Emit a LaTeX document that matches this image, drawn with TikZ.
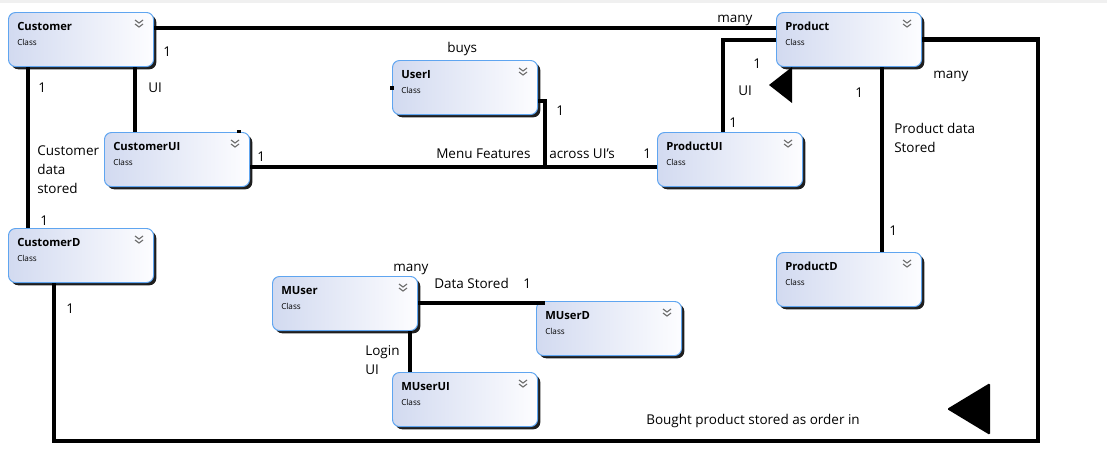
\documentclass[tikz,border=0pt]{standalone}
\usepackage{fontspec}
\setmainfont{Open Sans}
\usepackage{tikz}
\usetikzlibrary{calc, shadows, positioning}
\definecolor{boxleft}{RGB}{210, 218, 240}
\definecolor{boxright}{RGB}{253, 253, 255}
\definecolor{boxborder}{RGB}{95, 165, 240}
\definecolor{boxshadow}{RGB}{30, 30, 30}
\definecolor{chevgray}{RGB}{110, 110, 110}
\definecolor{framegray}{RGB}{240, 240, 240}
\tikzset{
    classbox/.style={draw=boxborder, line width=0.7pt, rounded corners=5pt, left color=boxleft, right color=boxright, minimum width=3.625cm, minimum height=1.35cm, anchor=north west, inner sep=0pt, general shadow={fill=boxshadow, shadow xshift=0.07cm, shadow yshift=-0.07cm}},
    classname/.style={font=\fontsize{8}{10}\selectfont\bfseries, anchor=base west, inner sep=0pt},
    classkind/.style={font=\fontsize{5.8}{7}\selectfont, anchor=base west, inner sep=0pt},
    rolelabel/.style={font=\fontsize{9.6}{13.5}\selectfont, anchor=base west, inner sep=0pt},
    assoc/.style={line width=3.5pt},
    chev/.pic={
        \draw[chevgray, line width=0.8pt] (-4,0) -- (0,3) -- (4,0);
        \draw[chevgray, line width=0.8pt] (-4,4) -- (0,7) -- (4,4);
    },
}

\begin{document}
\begin{tikzpicture}[x=0.025cm, y=-0.025cm]
\useasboundingbox (0,0) rectangle (1107,455);
\fill[framegray] (0,0) rectangle (1107,3);

% === Classes ===
\node[classbox] (customer) at (8,12) {};
\node[classname] (customername) at ($(customer.north west)+(9,18)$) {Customer};
\node[classkind] (customerkind) at ($(customer.north west)+(9,33)$) {Class};
\pic at ($(customer.north east)+(-15,8)$) {chev};

\node[classbox] (product) at (776,12) {};
\node[classname] (productname) at ($(product.north west)+(9,18)$) {Product};
\node[classkind] (productkind) at ($(product.north west)+(9,33)$) {Class};
\pic at ($(product.north east)+(-15,8)$) {chev};

\node[classbox] (useri) at (392,60) {};
\node[classname] (useriname) at ($(useri.north west)+(9,18)$) {UserI};
\node[classkind] (userikind) at ($(useri.north west)+(9,33)$) {Class};
\pic at ($(useri.north east)+(-15,8)$) {chev};

\node[classbox] (customerui) at (104,132) {};
\node[classname] (customeruiname) at ($(customerui.north west)+(9,18)$) {CustomerUI};
\node[classkind] (customeruikind) at ($(customerui.north west)+(9,33)$) {Class};
\pic at ($(customerui.north east)+(-15,8)$) {chev};

\node[classbox] (productui) at (657,132) {};
\node[classname] (productuiname) at ($(productui.north west)+(9,18)$) {ProductUI};
\node[classkind] (productuikind) at ($(productui.north west)+(9,33)$) {Class};
\pic at ($(productui.north east)+(-15,8)$) {chev};

\node[classbox] (customerd) at (8,228) {};
\node[classname] (customerdname) at ($(customerd.north west)+(9,18)$) {CustomerD};
\node[classkind] (customerdkind) at ($(customerd.north west)+(9,33)$) {Class};
\pic at ($(customerd.north east)+(-15,8)$) {chev};

\node[classbox] (productd) at (776,252) {};
\node[classname] (productdname) at ($(productd.north west)+(9,18)$) {ProductD};
\node[classkind] (productdkind) at ($(productd.north west)+(9,33)$) {Class};
\pic at ($(productd.north east)+(-15,8)$) {chev};

\node[classbox] (muser) at (272,276) {};
\node[classname] (musername) at ($(muser.north west)+(9,18)$) {MUser};
\node[classkind] (muserkind) at ($(muser.north west)+(9,33)$) {Class};
\pic at ($(muser.north east)+(-15,8)$) {chev};

\node[classbox] (muserd) at (536,301) {};
\node[classname] (muserdname) at ($(muserd.north west)+(9,18)$) {MUserD};
\node[classkind] (muserdkind) at ($(muserd.north west)+(9,33)$) {Class};
\pic at ($(muserd.north east)+(-15,8)$) {chev};

\node[classbox] (muserui) at (392,372) {};
\node[classname] (musueruiname) at ($(muserui.north west)+(9,18)$) {MUserUI};
\node[classkind] (museruikind) at ($(muserui.north west)+(9,33)$) {Class};
\pic at ($(muserui.north east)+(-15,8)$) {chev};

% === Associations ===
\draw[assoc] ($(customer.north east)+(0,16)$) -- ($(product.north west)+(0,16)$);
\draw[assoc] ($(customer.south west)+(20,0)$) -- ($(customerd.north west)+(20,0)$);
\draw[assoc] ($(customer.south west)+(127,0)$) -- ($(customerui.north west)+(31,0)$);
\draw[assoc] ($(customerui.north east)+(0,35)$) -- ($(productui.north west)+(0,35)$);
\draw[assoc] ($(useri.south east)+(0,-14)$) -| ($(customerui.north east)+(295,35)$);
\draw[assoc] ($(productui.north west)+(66,0)$) |- ($(product.north west)+(0,28)$);
\draw[assoc] ($(product.south west)+(106,0)$) -- ($(productd.north west)+(106,0)$);
\coordinate (ordercorner) at (1038,441);
\draw[assoc] (product.east) -| (ordercorner) -| ($(customerd.south west)+(46,0)$);
\draw[assoc] ($(muser.north east)+(0,27)$) -- ($(muserd.north west)+(9,2)$);
\draw[assoc] ($(muser.south west)+(138,0)$) -- ($(muserui.north west)+(18,0)$);

% stubs
\fill ($(useri.north west)+(-2,26)$) rectangle +(4,4);
\fill ($(customerui.north east)+(-13,-2)$) rectangle +(4,3);

% arrow heads
\fill (769,85) -- (792,67) -- (792,103) -- cycle;
\fill[rounded corners=1pt] (947,409) -- (990,383) -- (990,435) -- cycle;

% === Labels ===
\node[rolelabel] (manytop) at (717,22) {many};
\node[rolelabel] (custprod) at (163,56) {1};
\node[rolelabel] (custcd) at (38,92) {1};
\node[rolelabel] (custui) at (148,92) {UI};
\node[rolelabel, align=left, anchor=north west] (custstored) at (37,145) {Customer\\data\\stored};
\node[rolelabel] (cdcust) at (40,225) {1};
\node[rolelabel] (cuimenu) at (257,161) {1};
\node[rolelabel] (buys) at (447,52) {buys};
\node[rolelabel] (userione) at (556,115) {1};
\node[rolelabel] (menu) at (436,158) {Menu Features};
\node[rolelabel] (across) at (549,158) {across UI's};
\node[rolelabel] (puimenu) at (643,158) {1};
\node[rolelabel] (puiprod) at (729,127) {1};
\node[rolelabel] (produi) at (753,68) {1};
\node[rolelabel] (uiprod) at (738,95) {UI};
\node[rolelabel] (prodpd) at (855,97) {1};
\node[rolelabel] (manyright) at (933,78) {many};
\node[rolelabel, align=left, anchor=north west] (prodstored) at (894,123) {Product data\\Stored};
\node[rolelabel] (pdprod) at (889,235) {1};
\node[rolelabel] (cdorder) at (66,313) {1};
\node[rolelabel] (manymid) at (393,271) {many};
\node[rolelabel] (datastored) at (434,288) {Data Stored};
\node[rolelabel] (muserdone) at (523,288) {1};
\node[rolelabel, align=left, anchor=north west] (login) at (365,345) {Login\\UI};
\node[rolelabel] (bought) at (646,424) {Bought product stored as order in};
\end{tikzpicture}
\end{document}
